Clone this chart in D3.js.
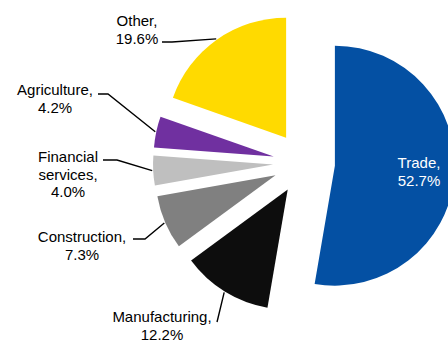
<!DOCTYPE html>
<html>
<head>
<meta charset="utf-8">
<script src="https://cdn.jsdelivr.net/npm/d3@7"></script>
<style>
  html, body { margin: 0; padding: 0; background: #fff; }
  svg { display: block; }
  text { font-family: "Liberation Sans", Arial, sans-serif; font-size: 15px; }
</style>
</head>
<body>
<svg id="chart" width="448" height="340"></svg>
<script>
// Sector shares, in percent, clockwise from 12 o'clock
const sectors = ["Trade", "Manufacturing", "Construction", "Financial services", "Agriculture", "Other"];
const shares  = [52.7, 12.2, 7.3, 4.0, 4.2, 19.6];
const colors  = ["#0450A3", "#0D0D0D", "#808080", "#BFBFBF", "#7030A0", "#FFDA00"];
// Label lines for each sector
const labelLines = [
  ["Trade,", "52.7%"],
  ["Manufacturing,", "12.2%"],
  ["Construction,", "7.3%"],
  ["Financial", "services,", "4.0%"],
  ["Agriculture,", "4.2%"],
  ["Other,", "19.6%"]
];

// Layout: label anchor (centre x, first baseline y) and leader start/elbow
const labelLayout = [
  { x: 419, y: 168, fill: "#fff", leader: null },
  { x: 162, y: 322, fill: "#000", leader: [[217, 322], [218, 318]] },
  { x: 82,  y: 242, fill: "#000", leader: [[133, 239], [145, 239]] },
  { x: 68,  y: 162, fill: "#000", leader: [[103, 160], [117, 160]] },
  { x: 55,  y: 95,  fill: "#000", leader: [[98, 94], [108, 94]] },
  { x: 137, y: 26,  fill: "#000", leader: [[162, 42], [172, 42]] }
];
const lineHeight = 17.6;

const cx = 304, cy = 163, radius = 120, explode = 31;

const data = sectors.map((s, i) => ({ sector: s, value: shares[i], i }));
const pie = d3.pie().value(d => d.value).sort(null).startAngle(0).endAngle(2 * Math.PI);
const arcs = pie(data);
const arc = d3.arc().innerRadius(0).outerRadius(radius);

const svg = d3.select("#chart");
const g = svg.append("g").attr("transform", `translate(${cx},${cy})`);

function offsetOf(a) {
  const mid = (a.startAngle + a.endAngle) / 2;
  return [Math.sin(mid) * explode, -Math.cos(mid) * explode];
}

g.selectAll("path.slice")
  .data(arcs)
  .join("path")
  .attr("class", "slice")
  .attr("d", arc)
  .attr("fill", d => colors[d.data.i])
  .attr("transform", d => { const o = offsetOf(d); return `translate(${o[0]},${o[1]})`; });

// Leader lines from label to the outer edge of each slice
const line = d3.line();
arcs.forEach(a => {
  const L = labelLayout[a.data.i];
  if (!L.leader) return;
  const o = offsetOf(a);
  const mid = (a.startAngle + a.endAngle) / 2;
  const end = [cx + o[0] + Math.sin(mid) * (radius + 1), cy + o[1] - Math.cos(mid) * (radius + 1)];
  svg.append("path")
    .attr("d", line([L.leader[0], L.leader[1], end]))
    .attr("fill", "none")
    .attr("stroke", "#000")
    .attr("stroke-width", 1.4);
});

// Labels
arcs.forEach(a => {
  const L = labelLayout[a.data.i];
  const t = svg.append("text")
    .attr("text-anchor", "middle")
    .attr("fill", L.fill);
  labelLines[a.data.i].forEach((s, k) => {
    t.append("tspan").attr("x", L.x).attr("y", L.y + k * lineHeight).text(s);
  });
});
</script>
</body>
</html>
